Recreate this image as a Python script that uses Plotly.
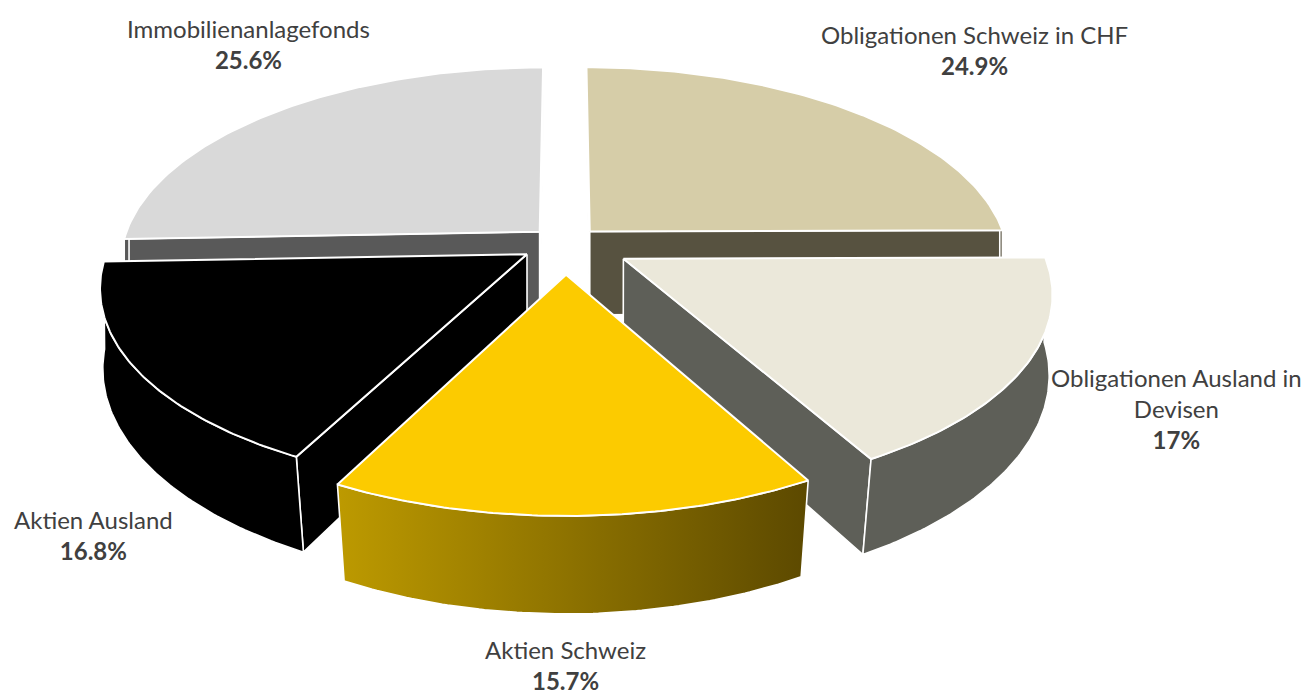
import numpy as np
import plotly.graph_objects as go

categories = ["Obligationen Schweiz in CHF", "Obligationen Ausland in<br>Devisen", "Aktien Schweiz", "Aktien Ausland", "Immobilienanlagefonds"]
values = [24.9, 17, 15.7, 16.8, 25.6]
pull = [0.085, 0.16, 0.16, 0.107, 0.085]
top_colors = ["#d6cda8", "#ebe8da", "#fccb00", "#000000", "#d9d9d9"]
wall_colors = ["#575240", "#5e5f58", "#8f7400", "#000000", "#595959"]
label_pos = [(974, 50), (1176, 408), (565, 665), (93, 535), (248, 44)]
draw_order = [4, 0, 3, 1, 2]

CX, CY, RX, RY, K = 565.0, 243.0, 417.0, 193.0, 0.155
T0, T1, SHRINK = 84.0, 12.0, 0.028

def project(u, v, z):
    w = 1 - K * v
    s = 1 - SHRINK * z * np.clip(v, 0, None)
    return (CX + RX * u / w * s, CY + RY * v / w + z * (T0 + T1 * v))

total = sum(values)
starts = np.cumsum([0] + values[:-1]) / total * 2 * np.pi
ends = np.cumsum(values) / total * 2 * np.pi

fig = go.Figure()

def poly(xs, ys, color, gradient=None, width=1.6):
    kw = {}
    if gradient:
        kw["fillgradient"] = dict(type="horizontal", colorscale=gradient)
    else:
        kw["fillcolor"] = color
    fig.add_trace(go.Scatter(x=np.r_[xs, xs[0]], y=np.r_[ys, ys[0]], mode="lines", fill="toself",
                             line=dict(color="white", width=width), hoverinfo="skip", showlegend=False, **kw))

for i in draw_order:
    a0, a1 = starts[i], ends[i]
    mid = (a0 + a1) / 2
    ou, ov = pull[i] * np.sin(mid), -pull[i] * np.cos(mid)
    t = np.linspace(a0, a1, 90)
    u, v = ou + np.sin(t), ov - np.cos(t)
    # radial walls that face the viewer
    for e, visible in ((a0, np.sin(a0) <= 1e-9), (a1, np.sin(a1) >= -1e-9)):
        if not visible:
            continue
        eu, ev = ou + np.sin(e), ov - np.cos(e)
        tx, ty = project(np.array([ou, eu]), np.array([ov, ev]), 0)
        bx, by = project(np.array([ou, eu]), np.array([ov, ev]), 1)
        poly(np.r_[tx, bx[::-1]], np.r_[ty, by[::-1]], wall_colors[i])
    # rim wall
    mask = -np.cos(t) > -0.05
    if mask.any():
        tx, ty = project(u[mask], v[mask], 0)
        bx, by = project(u[mask], v[mask], 1)
        grad = [[0, "#bd9a00"], [1, "#5c4900"]] if i == 2 else None
        poly(np.r_[tx, bx[::-1]], np.r_[ty, by[::-1]], wall_colors[i], gradient=grad)
    # top face
    tx, ty = project(np.r_[ou, u], np.r_[ov, v], 0)
    poly(tx, ty, top_colors[i], width=2)

annotations = []
for name, val, (x, y) in zip(categories, values, label_pos):
    annotations.append(dict(x=x, y=y, xref="x", yref="y", showarrow=False, align="center",
                            text=f"{name}<br><b>{val:g}%</b>",
                            font=dict(family="Lato", size=24, color="#404040")))

fig.update_layout(
    width=1306, height=696, margin=dict(l=0, r=0, t=0, b=0),
    paper_bgcolor="white", plot_bgcolor="white",
    xaxis=dict(range=[0, 1306], visible=False, fixedrange=True),
    yaxis=dict(range=[696, 0], visible=False, fixedrange=True),
    annotations=annotations,
)
fig.write_html("out.html", config={"displayModeBar": False},
               post_script="document.body.style.margin='0';document.body.style.overflow='hidden';")
